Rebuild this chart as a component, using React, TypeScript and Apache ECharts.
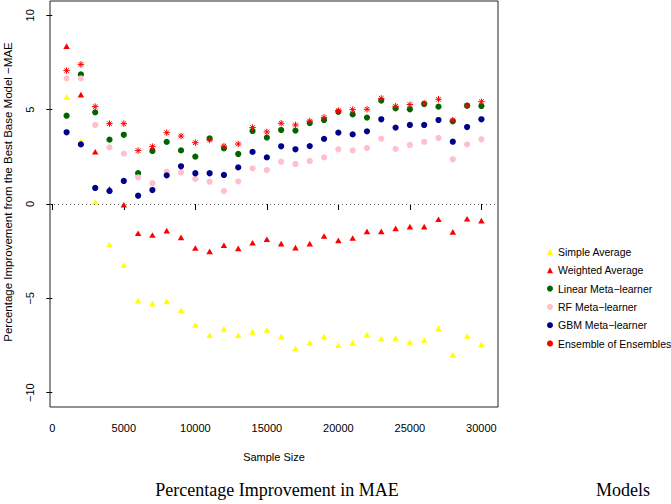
import React, { useEffect, useRef } from "react";
import * as echarts from "echarts";

const sampleSizes = [
  1000, 2000, 3000, 4000, 5000, 6000, 7000, 8000, 9000, 10000,
  11000, 12000, 13000, 14000, 15000, 16000, 17000, 18000, 19000, 20000,
  21000, 22000, 23000, 24000, 25000, 26000, 27000, 28000, 29000, 30000,
];

const simpleAverage = [
  5.67, 3.32, 0.11, -2.16, -3.23, -5.12, -5.28, -5.16, -5.64, -6.41,
  -6.96, -6.62, -6.96, -6.78, -6.68, -7.03, -7.65, -7.35, -7.03, -7.49,
  -7.35, -6.93, -7.14, -7.1, -7.31, -7.21, -6.59, -7.99, -7.0, -7.44,
];

const weightedAverage = [
  8.37, 5.8, 2.77, 0.81, -0.04, -1.55, -1.64, -1.41, -1.77, -2.33,
  -2.51, -2.19, -2.35, -2.05, -1.87, -2.1, -2.31, -2.1, -1.7, -1.93,
  -1.8, -1.45, -1.45, -1.29, -1.2, -1.2, -0.81, -1.48, -0.78, -0.88,
];

const linearMeta = [
  4.68, 6.87, 4.86, 3.41, 3.67, 1.63, 2.81, 3.29, 2.84, 2.51,
  3.48, 2.95, 2.65, 3.87, 3.52, 3.92, 3.89, 4.29, 4.45, 4.89,
  4.75, 4.58, 5.48, 5.07, 5.02, 5.3, 5.16, 4.38, 5.21, 5.19,
];

const rfMeta = [
  6.66, 6.66, 4.19, 3.0, 2.67, 1.41, 1.1, 1.71, 1.68, 1.33,
  1.18, 0.69, 1.2, 1.89, 1.8, 2.24, 2.12, 2.28, 2.47, 2.9,
  2.84, 2.97, 3.46, 2.92, 3.13, 3.29, 3.5, 2.37, 3.16, 3.43,
];

const gbmMeta = [
  3.8, 3.16, 0.85, 0.69, 1.22, 0.44, 0.74, 1.52, 2.0, 1.63,
  1.63, 1.54, 1.94, 2.76, 2.47, 3.06, 2.9, 3.07, 3.45, 3.78,
  3.69, 3.85, 4.49, 4.05, 4.19, 4.19, 4.45, 3.3, 4.08, 4.49,
];

const ensembleOfEnsembles = [
  7.07, 7.4, 5.16, 4.26, 4.26, 2.83, 3.04, 3.78, 3.6, 3.25,
  3.39, 3.07, 3.18, 4.05, 3.82, 4.28, 4.19, 4.4, 4.59, 4.95,
  5.0, 5.02, 5.6, 5.18, 5.27, 5.34, 5.55, 4.45, 5.21, 5.42,
];

const xTicks = [0, 5000, 10000, 15000, 20000, 25000, 30000];
const yTicks = [-10, -5, 0, 5, 10];

const SANS = '"Liberation Sans", Arial, Helvetica, sans-serif';
const SERIF = '"Liberation Serif", "Times New Roman", serif';
const STAR =
  "path://M0 5L10 5M5 0L5 10M1.46 1.46L8.54 8.54M8.54 1.46L1.46 8.54";

const X_MIN = -160;
const X_MAX = 31160;
const Y_MIN = -10.76;
const Y_MAX = 10.76;

const GRID_LEFT = 50;
const GRID_RIGHT = 173;
const GRID_TOP = 1;
const GRID_BOTTOM = 97;
const W = 671;
const H = 504;

const pairs = (vals: number[]) => sampleSizes.map((s, i) => [s, vals[i]]);
const fmt = (v: number) => String(v).replace("-", "\u2212");

export default function App() {
  const ref = useRef<HTMLDivElement>(null);

  useEffect(() => {
    if (!ref.current) return;
    const chart = echarts.init(ref.current, null, { renderer: "svg" });

    const tri = (name: string, color: string, vals: number[]) => ({
      name,
      type: "scatter",
      symbol: "triangle",
      symbolSize: [6.5, 5.6],
      itemStyle: { color, opacity: 1 },
      data: pairs(vals),
    });
    const dot = (name: string, color: string, vals: number[]) => ({
      name,
      type: "scatter",
      symbol: "circle",
      symbolSize: 6.2,
      itemStyle: { color, opacity: 1 },
      data: pairs(vals),
    });

    const series: any[] = [
      {
        ...tri("Simple Average", "#FFFF00", simpleAverage),
        markLine: {
          silent: true,
          symbol: "none",
          label: { show: false },
          lineStyle: { color: "#666", type: [1, 3], width: 1 },
          data: [{ yAxis: 0 }],
        },
      },
      tri("Weighted Average", "#FF0000", weightedAverage),
      dot("Linear Meta\u2212learner", "#006400", linearMeta),
      dot("RF Meta\u2212learner", "#FFC0CB", rfMeta),
      dot("GBM Meta\u2212learner", "#00008B", gbmMeta),
      {
        name: "Ensemble of Ensembles",
        type: "scatter",
        symbol: STAR,
        symbolSize: 6.5,
        itemStyle: { color: "#FF0000", borderColor: "#FF0000", borderWidth: 1, opacity: 1 },
        data: pairs(ensembleOfEnsembles),
      },
    ];

    chart.setOption({
      animation: false,
      backgroundColor: "#ffffff",
      textStyle: { fontFamily: SANS },
      grid: {
        left: GRID_LEFT,
        right: GRID_RIGHT,
        top: GRID_TOP,
        bottom: GRID_BOTTOM,
        containLabel: false,
        outerBoundsMode: "none",
      },
      xAxis: {
        type: "value",
        min: X_MIN,
        max: X_MAX,
        name: "Sample Size",
        nameLocation: "middle",
        nameGap: 44,
        nameTextStyle: { fontSize: 11, color: "#000", fontFamily: SANS },
        axisLine: { show: false },
        splitLine: { show: false },
        axisTick: {
          show: true,
          customValues: xTicks,
          length: 6,
          lineStyle: { color: "#000", width: 1 },
        },
        axisLabel: {
          customValues: xTicks,
          fontSize: 11,
          color: "#000",
          margin: 15,
          formatter: (v: number) => fmt(v),
        },
      },
      yAxis: {
        type: "value",
        min: Y_MIN,
        max: Y_MAX,
        axisLine: { show: false },
        splitLine: { show: false },
        axisTick: {
          show: true,
          customValues: yTicks,
          length: 6,
          lineStyle: { color: "#000", width: 1 },
        },
        axisLabel: {
          customValues: yTicks,
          rotate: 90,
          fontSize: 11,
          color: "#000",
          margin: 14.5,
          formatter: (v: number) => fmt(v),
        },
      },
      legend: {
        orient: "vertical",
        left: 541,
        top: 241,
        itemWidth: 6,
        itemHeight: 6,
        itemGap: 6.3,
        selectedMode: false,
        textStyle: { fontSize: 10.5, color: "#000", fontFamily: SANS, lineHeight: 12 },
        data: series.map((s) => s.name),
      },
      graphic: [
        {
          type: "rect",
          z: 100,
          silent: true,
          shape: {
            x: GRID_LEFT,
            y: GRID_TOP,
            width: W - GRID_LEFT - GRID_RIGHT,
            height: H - GRID_TOP - GRID_BOTTOM,
          },
          style: { fill: "none", stroke: "#222", lineWidth: 1 },
        },
        {
          type: "text",
          x: 8,
          y: 192,
          rotation: Math.PI / 2,
          style: {
            text: "Percentage Improvement from the Best Base Model \u2212MAE",
            fontSize: 11.5,
            fontFamily: SANS,
            fill: "#000",
            align: "center",
            verticalAlign: "middle",
          },
        },
        {
          type: "text",
          x: 277,
          y: 490,
          style: {
            text: "Percentage Improvement in MAE",
            fontSize: 18,
            fontFamily: SERIF,
            fill: "#000",
            align: "center",
            verticalAlign: "middle",
          },
        },
        {
          type: "text",
          x: 623,
          y: 490,
          style: {
            text: "Models",
            fontSize: 18,
            fontFamily: SERIF,
            fill: "#000",
            align: "center",
            verticalAlign: "middle",
          },
        },
      ],
      series,
    });

    return () => chart.dispose();
  }, []);

  return (
    <div
      ref={ref}
      style={{ position: "fixed", left: 0, top: 0, width: W, height: H, background: "#fff" }}
    />
  );
}
